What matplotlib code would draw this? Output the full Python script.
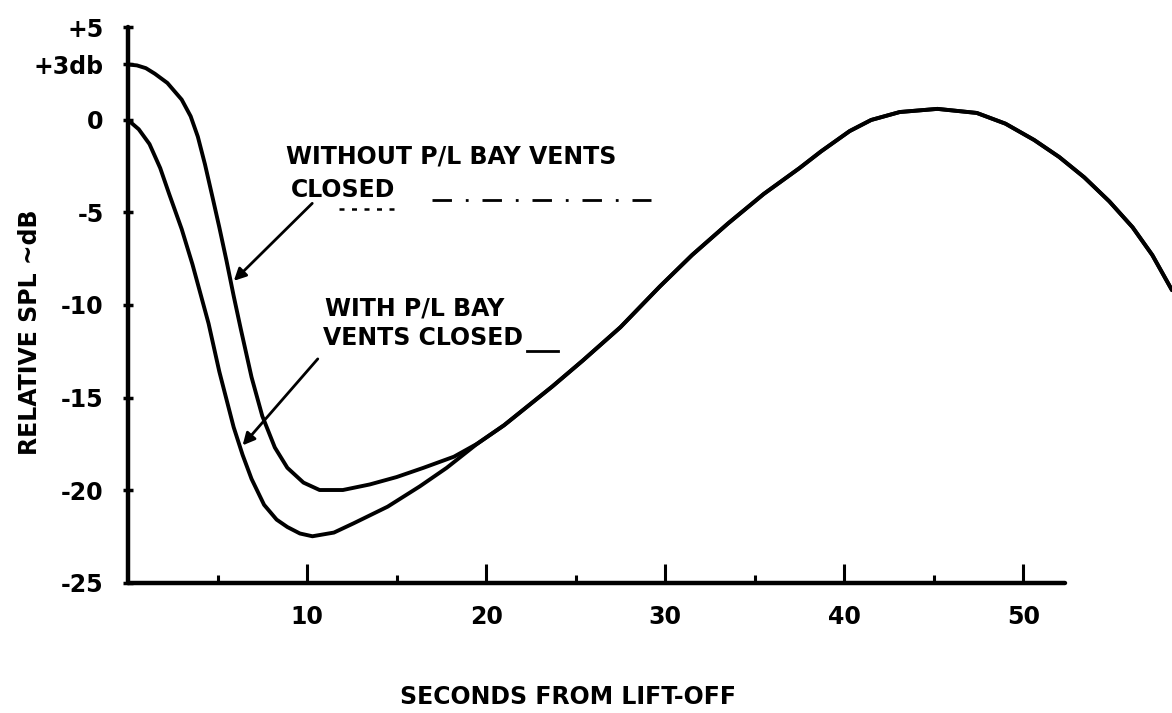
import matplotlib
matplotlib.use('Agg')
import matplotlib.pyplot as plt

plt.rcParams['font.family'] = ['DejaVu Sans']
plt.rcParams['font.weight'] = 'bold'

# 读图得到的数据（秒, dB）
# 通风口不关闭（上方曲线），到汇合点为止
without_x = [0, 0.5, 1.0, 1.5, 2.2, 3.0, 3.5, 3.9, 4.3, 4.75, 5.1, 5.5, 5.9, 6.3, 6.9, 7.5, 8.2, 8.9,
             9.8, 10.7, 12.0, 13.5, 15.0, 16.5, 18.2, 19.5]
without_y = [3.0, 2.95, 2.8, 2.5, 2.0, 1.1, 0.2, -0.9, -2.4, -4.3, -5.8, -7.6, -9.5, -11.3, -13.9, -16.0,
             -17.7, -18.8, -19.6, -20.0, -20.0, -19.7, -19.3, -18.8, -18.2, -17.5]

# 通风口关闭（下方曲线），到汇合点为止
with_x = [0, 0.6, 1.2, 1.8, 2.3, 3.0, 3.6, 4.5, 5.1, 5.9, 6.4, 6.9, 7.6, 8.3, 8.9, 9.6, 10.3, 11.5,
          12.6, 14.5, 16.3, 17.8, 19.5]
with_y = [0.0, -0.5, -1.3, -2.6, -4.0, -5.9, -7.8, -11.0, -13.6, -16.6, -18.1, -19.4, -20.8, -21.6,
          -22.0, -22.35, -22.5, -22.3, -21.8, -20.9, -19.8, -18.8, -17.5]

# 汇合后的共同部分
common_x = [19.5, 21.0, 23.7, 25.4, 27.5, 29.7, 31.5, 33.5, 35.5, 37.5, 38.7, 40.3, 41.5, 43.1, 45.2,
            47.4, 49.0, 50.6, 52.0, 53.4, 54.8, 56.1, 57.2, 58.3]
common_y = [-17.5, -16.5, -14.4, -13.0, -11.2, -9.0, -7.3, -5.6, -4.0, -2.6, -1.7, -0.6, 0.0, 0.43, 0.6,
            0.38, -0.2, -1.08, -2.0, -3.1, -4.4, -5.8, -7.3, -9.2]

y_ticks = [5, 3, 0, -5, -10, -15, -20, -25]
y_labels = ['+5', '+3db', '0', '-5', '-10', '-15', '-20', '-25']
x_major = [10, 20, 30, 40, 50]
x_minor = [5, 15, 25, 35, 45]

fig = plt.figure(figsize=(11.72, 7.13), dpi=100)
ax = fig.add_axes([0.1092, 0.1311, 0.8908, 0.8667])

line_kw = dict(color='black', lw=2.8, solid_capstyle='round', solid_joinstyle='round', clip_on=False)
ax.plot(without_x + common_x[1:], without_y + common_y[1:], **line_kw)
ax.plot(with_x + common_x[1:], with_y + common_y[1:], **line_kw)

ax.set_xlim(0, 58.3)
ax.set_ylim(-27, 6.4)

for s in ['top', 'right']:
    ax.spines[s].set_visible(False)
ax.spines['bottom'].set_position(('data', -25))
ax.spines['left'].set_bounds(-25, 5)
ax.spines['bottom'].set_bounds(0, 52.3)
for s in ['left', 'bottom']:
    ax.spines[s].set_linewidth(3.2)
    ax.spines[s].set_capstyle('round')

ax.set_yticks(y_ticks)
ax.set_yticklabels(y_labels)
ax.tick_params(axis='y', direction='inout', length=7, width=2.5, pad=14, labelsize=17)

ax.set_xticks(x_major)
ax.set_xticklabels([str(v) for v in x_major])
ax.set_xticks(x_minor, minor=True)
ax.tick_params(axis='x', which='major', direction='in', length=14, width=2.2, pad=16, labelsize=17)
ax.tick_params(axis='x', which='minor', direction='in', length=6, width=2.2)

# 文字标注
ax.text(8.8, -2.0, 'WITHOUT P/L BAY VENTS', fontsize=17, va='center', ha='left')
ax.text(9.1, -3.8, 'CLOSED', fontsize=17, va='center', ha='left')
ax.plot([17.0, 29.2], [-4.3, -4.3], color='black', lw=2, linestyle=(0, (7, 5, 1, 5)))
ax.plot([11.8, 14.9], [-4.8, -4.8], color='black', lw=1.8, linestyle=(0, (2, 3)))
ax.annotate('', xy=(5.8, -8.8), xytext=(10.4, -4.4),
            arrowprops=dict(arrowstyle='-|>', color='black', lw=2, mutation_scale=18))

ax.text(11.0, -10.2, 'WITH P/L BAY', fontsize=17, va='center', ha='left')
ax.text(10.9, -11.8, 'VENTS CLOSED', fontsize=17, va='center', ha='left')
ax.plot([22.3, 24.0], [-12.5, -12.5], color='black', lw=2)
ax.annotate('', xy=(6.3, -17.7), xytext=(10.7, -12.8),
            arrowprops=dict(arrowstyle='-|>', color='black', lw=2, mutation_scale=18))

fig.text(30 / 1172, 1 - 332 / 713, 'RELATIVE SPL ~dB', rotation=90, fontsize=17,
         ha='center', va='center')
fig.text(568 / 1172, 1 - 697 / 713, 'SECONDS FROM LIFT-OFF', fontsize=17,
         ha='center', va='center')

plt.savefig('out.png', dpi=100)
